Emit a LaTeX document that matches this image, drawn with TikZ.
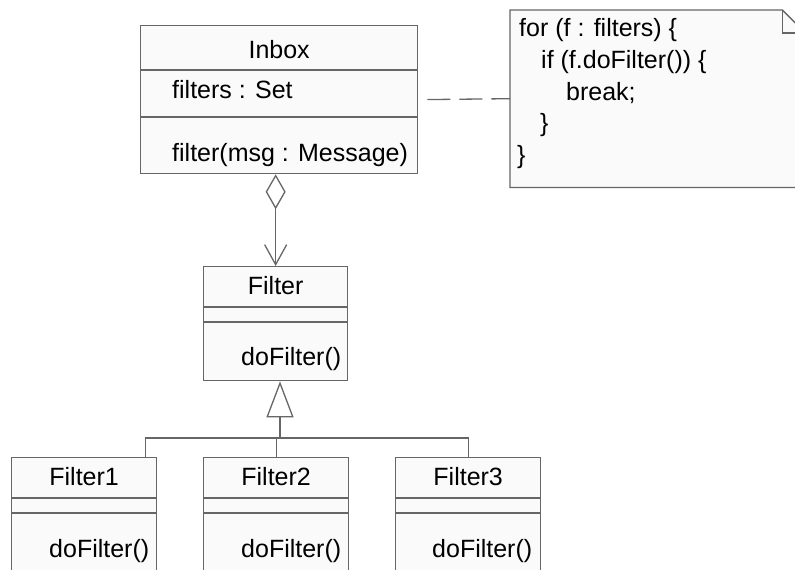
\documentclass[tikz,border=0pt]{standalone}
\usepackage{fontspec}
\setmainfont{Liberation Sans}
\usetikzlibrary{arrows.meta}
\begin{document}
\begin{tikzpicture}[x=1pt, y=-1pt,
  classbox/.style={rectangle, draw=black!60, line width=1.3pt, fill=black!2, anchor=north west, inner sep=0pt},
  umlline/.style={draw=black!60, line width=1.3pt},
  umltext/.style={inner sep=0pt, text=black, font=\fontsize{25}{31.75}\selectfont},
  notelink/.style={umlline, dash pattern=on 23pt off 9pt, dash phase=23pt},
  aggregation/.style={umlline, {Diamond[open, length=35pt, width=20pt]}-{Straight Barb[length=20pt, width=22pt]}},
  generalization/.style={umlline, -{Triangle[open, length=36pt, width=27pt]}}
]
\useasboundingbox (0,0) rectangle (795,570);

% classes
\node[classbox, minimum width=277pt, minimum height=148pt] (inbox) at (140,25) {};
\node[classbox, minimum width=144pt, minimum height=114pt] (filter) at (203,266) {};
\node[classbox, minimum width=145pt, minimum height=114pt] (f1) at (11,457) {};
\node[classbox, minimum width=145pt, minimum height=114pt] (f2) at (203,457) {};
\node[classbox, minimum width=145pt, minimum height=114pt] (f3) at (395,457) {};

% compartments
\draw[umlline] ([shift={(0,45)}]inbox.north west) -- ([shift={(0,45)}]inbox.north east);
\draw[umlline] ([shift={(0,92)}]inbox.north west) -- ([shift={(0,92)}]inbox.north east);
\foreach \c in {filter,f1,f2,f3} {
  \draw[umlline] ([shift={(0,41)}]\c.north west) -- ([shift={(0,41)}]\c.north east);
  \draw[umlline] ([shift={(0,56)}]\c.north west) -- ([shift={(0,56)}]\c.north east);
}

% texts
\node[umltext, anchor=base] (inboxname) at ([shift={(0,33)}]inbox.north) {Inbox};
\node[umltext, anchor=base west] (inboxattr) at ([shift={(32,73)}]inbox.north west) {filters : Set};
\node[umltext, anchor=base west] (inboxop) at ([shift={(32,136)}]inbox.north west) {filter(msg : Message)};
\node[umltext, anchor=base] (filtername) at ([shift={(0,28)}]filter.north) {Filter};
\node[umltext, anchor=base west] (filterop) at ([shift={(38,99)}]filter.north west) {doFilter()};
\node[umltext, anchor=base] (f1name) at ([shift={(0,28)}]f1.north) {Filter1};
\node[umltext, anchor=base west] (f1op) at ([shift={(38,100)}]f1.north west) {doFilter()};
\node[umltext, anchor=base] (f2name) at ([shift={(0,28)}]f2.north) {Filter2};
\node[umltext, anchor=base west] (f2op) at ([shift={(38,100)}]f2.north west) {doFilter()};
\node[umltext, anchor=base] (f3name) at ([shift={(0,28)}]f3.north) {Filter3};
\node[umltext, anchor=base west] (f3op) at ([shift={(37,100)}]f3.north west) {doFilter()};

% note
\node[rectangle, inner sep=0pt, minimum width=295pt, minimum height=177pt, anchor=north west] (note) at (510,10) {};
\draw[umlline, fill=black!2] (note.north west) -- ([xshift=-23pt]note.north east)
  -- ([yshift=-23pt]note.north east) -- (note.south east) -- (note.south west) -- cycle;
\draw[umlline] ([xshift=-23pt]note.north east) |- ([yshift=-23pt]note.north east);
\node[umltext, anchor=base west] (code1) at (519,36) {for (f : filters) \{};
\node[umltext, anchor=base west] (code2) at (541,68) {if (f.doFilter()) \{};
\node[umltext, anchor=base west] (code3) at (566,100) {break;};
\node[umltext, anchor=base west] (code4) at (540,131) {\}};
\node[umltext, anchor=base west] (code5) at (517,163) {\}};

% connectors
\draw[notelink] (inbox.east) -- (note.west);
\draw[aggregation] (inbox.south -| filter.north) -- (filter.north);
\coordinate (bus) at (280,438);
\draw[generalization] (bus) -- (filter.south -| bus);
\draw[umlline] ([xshift=61pt]f1.north) |- (bus) -| (f3.north);
\draw[umlline] (f2.north) -- (f2.north |- bus);
\end{tikzpicture}
\end{document}
